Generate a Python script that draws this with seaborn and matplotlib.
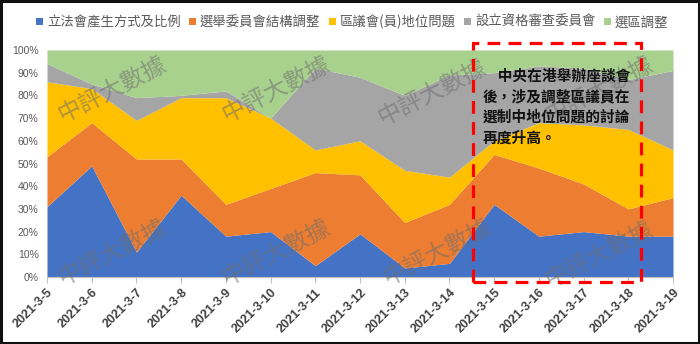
import matplotlib
matplotlib.use("Agg")
import matplotlib.pyplot as plt
from matplotlib.patches import Patch, Rectangle
import seaborn as sns
import numpy as np

# Dates of the daily discussion tally
dates = ["2021-3-5", "2021-3-6", "2021-3-7", "2021-3-8", "2021-3-9",
         "2021-3-10", "2021-3-11", "2021-3-12", "2021-3-13", "2021-3-14",
         "2021-3-15", "2021-3-16", "2021-3-17", "2021-3-18", "2021-3-19"]

# Share of each topic per day (%)
legco_method = [31, 49, 11, 36, 18, 20, 5, 19, 4, 6, 32, 18, 20, 18, 18]
ec_structure = [22, 19, 41, 16, 14, 19, 41, 26, 20, 26, 22, 30, 21, 12, 17]
dc_role = [33, 15, 17, 27, 47, 31, 10, 15, 23, 12, 6, 20, 26, 35, 21]
vetting_committee = [8, 2, 10, 1, 3, 0, 36, 28, 33, 45, 30, 25, 25, 22, 35]
constituency = [6, 15, 21, 20, 18, 30, 8, 12, 20, 11, 10, 7, 8, 13, 9]

series_names = ["立法會產生方式及比例", "選舉委員會結構調整", "區議會(員)地位問題",
                "設立資格審查委員會", "選區調整"]
y_ticks = [0, 10, 20, 30, 40, 50, 60, 70, 80, 90, 100]

note_text = "\u3000中央在港舉辦座談會\n後，涉及調整區議員在\n選制中地位問題的討論\n再度升高。"
watermark = "中評大數據"

sns.set_theme(style="white")
cjk = ["Noto Sans CJK TC", "DejaVu Sans"]
plt.rcParams["font.family"] = cjk

palette = sns.color_palette(["#4472C4", "#ED7D31", "#FFC000", "#A5A5A5", "#A9D18E"])

W, H = 700, 344
fig = plt.figure(figsize=(W / 100, H / 100), dpi=100)
ax = fig.add_axes([47 / W, 1 - 277 / H, (673 - 47) / W, (277 - 50) / H])

x = np.arange(len(dates))
values = np.array([legco_method, ec_structure, dc_role, vetting_committee, constituency], dtype=float)
ax.stackplot(x, values, colors=palette, linewidth=0)

ax.set_xlim(0, len(dates) - 1)
ax.set_ylim(0, 100)
ax.set_yticks(y_ticks)
ax.set_yticklabels([f"{v}%" for v in y_ticks], fontsize=7.5, color="#595959",
                   family=["Liberation Sans"])
ax.set_xticks(x)
ax.set_xticklabels(dates, rotation=45, ha="right", rotation_mode="anchor",
                   fontsize=9, fontweight="bold", color="#404040",
                   family=["Liberation Sans"])
ax.tick_params(axis="x", length=4, width=0.8, color="#BFBFBF", pad=3, direction="out", bottom=True)
ax.tick_params(axis="y", length=0, pad=6)
for side in ["top", "right", "left"]:
    ax.spines[side].set_visible(False)
ax.spines["bottom"].set_color("#BFBFBF")
ax.spines["bottom"].set_linewidth(0.8)
ax.grid(False)

# Legend across the top
handles = [Patch(facecolor=c, edgecolor="none") for c in palette]
fig.legend(handles, series_names, loc="center", bbox_to_anchor=(0.503, 1 - 22 / H),
           ncol=5, frameon=False, fontsize=9.6, handlelength=0.5, handleheight=0.5,
           handletextpad=0.3, columnspacing=0.65, labelcolor="#595959")

# Repeated watermark
wm_centers = [(113, 90), (277, 90), (433, 93), (600, 90),
              (113, 253), (277, 253), (438, 253), (600, 255)]
for cx, cy in wm_centers:
    fig.text(cx / W, 1 - cy / H, watermark, fontsize=17, color="#6E6E6E", alpha=0.55,
             rotation=27, ha="center", va="center", rotation_mode="anchor", zorder=5)

# Highlight box for the final days
rect = Rectangle((473 / W, 1 - 282 / H), (641 - 473) / W, (282 - 43) / H,
                 transform=fig.transFigure, fill=False, edgecolor="#FF0000",
                 linewidth=2.3, linestyle=(0, (4, 2.6)), zorder=6)
fig.add_artist(rect)

fig.text(483 / W, 1 - 68 / H, note_text, fontsize=10.6, fontweight="bold",
         color="#111111", ha="left", va="top", linespacing=1.35, zorder=7)

# Outer frame
frame = Rectangle((0.0015, 0.003), 0.997, 0.994, transform=fig.transFigure, fill=False,
                  edgecolor="#111111", linewidth=2.2, zorder=10)
fig.add_artist(frame)

fig.savefig("out.png", dpi=100)
